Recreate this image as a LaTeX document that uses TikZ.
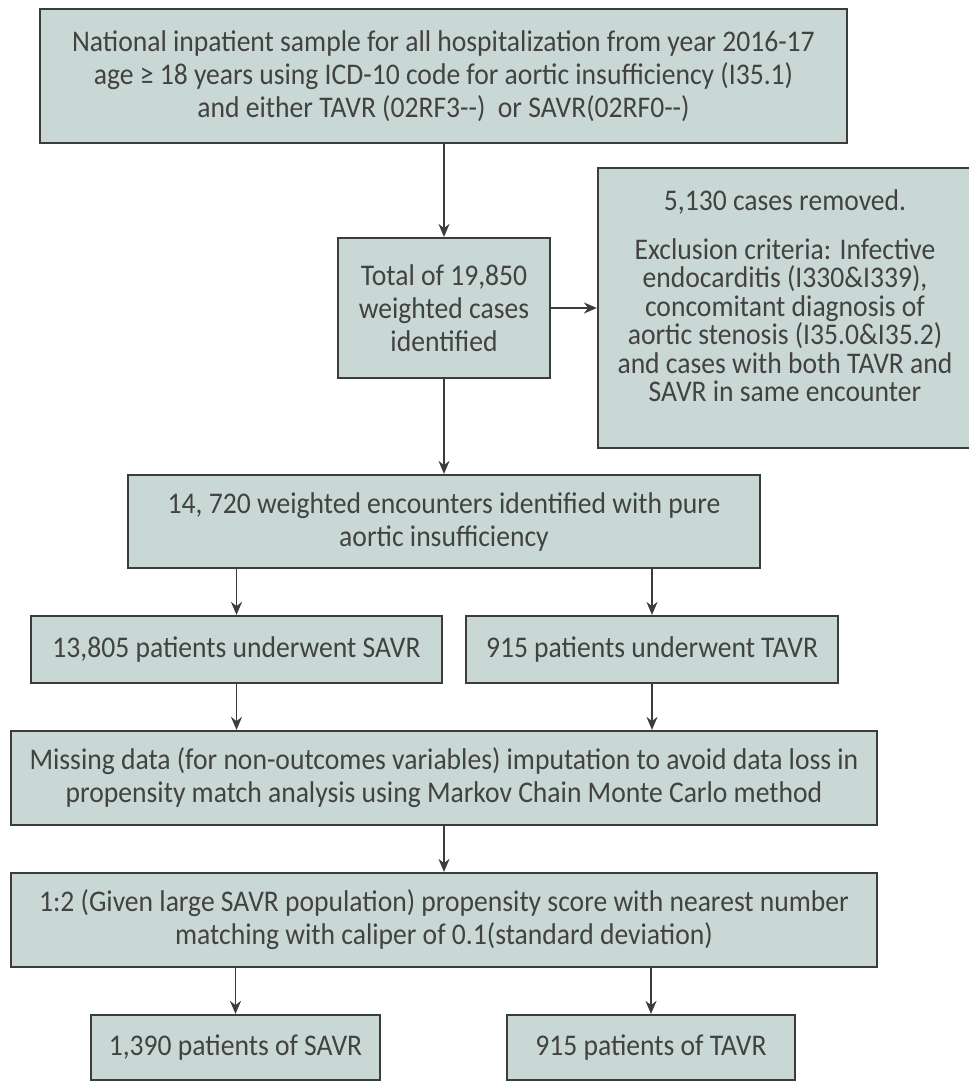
\documentclass[tikz,border=0pt]{standalone}
\usepackage{fontspec}
\setmainfont{Carlito}[FakeStretch=0.92]
\usetikzlibrary{arrows.meta}
\definecolor{boxfill}{RGB}{201,216,213}
\definecolor{boxline}{RGB}{60,60,60}
\definecolor{txt}{RGB}{66,66,66}
\begin{document}
\begin{tikzpicture}[x=1pt,y=-1pt,
  box/.style={draw=boxline, line width=2.2pt, fill=boxfill, text=txt, align=center, inner sep=0pt, font=\fontsize{30}{33}\selectfont},
  tight/.style={font=\fontsize{30}{28.5}\selectfont},
  arr/.style={draw=boxline, line width=1.6pt, -{Stealth[length=13pt,width=11pt]}}]
\fill[white] (0,0) rectangle (969,1082);
\useasboundingbox (0,0) rectangle (969,1082);
\node[box, minimum width=807pt, minimum height=134pt] (top) at (443.5,76)
  {National inpatient sample for all hospitalization from year 2016-17\\
   age ≥ 18 years using ICD-10 code for aortic insufficiency (I35.1)\\
   and either TAVR (02RF3-{}-)\ \ or SAVR(02RF0-{}-)};
\node[box, minimum width=212pt, minimum height=140pt] (total) at (444,308)
  {Total of 19,850\\ weighted cases\\ identified};
\node[box, tight, minimum width=374pt, minimum height=280pt] (excl) at (785,308)
  {5,130 cases removed.\\[20pt]
   Exclusion criteria: Infective\\
   endocarditis (I330\&I339),\\
   concomitant diagnosis of\\
   aortic stenosis (I35.0\&I35.2)\\
   and cases with both TAVR and\\
   SAVR in same encounter\\[-4pt]\mbox{}};
\node[box, minimum width=632pt, minimum height=93pt] (pure) at (444,521.5)
  {14, 720 weighted encounters identified with pure\\ aortic insufficiency};
\node[box, minimum width=411pt, minimum height=67pt] (savr) at (236.5,649.5)
  {13,805 patients underwent SAVR};
\node[box, minimum width=372pt, minimum height=67pt] (tavr) at (652,649.5)
  {915 patients underwent TAVR};
\node[box, minimum width=866pt, minimum height=94pt] (miss) at (444,778)
  {Missing data (for non-outcomes variables) imputation to avoid data loss in\\
   propensity match analysis using Markov Chain Monte Carlo method};
\node[box, minimum width=866pt, minimum height=94pt] (match) at (444,920)
  {1:2 (Given large SAVR population) propensity score with nearest number\\
   matching with caliper of 0.1(standard deviation)};
\node[box, minimum width=289pt, minimum height=65pt] (bsavr) at (235.5,1047.5)
  {1,390 patients of SAVR};
\node[box, minimum width=288pt, minimum height=65pt] (btavr) at (651,1047.5)
  {915 patients of TAVR};
\draw[arr] (top.south -| total.north) -- (total.north);
\draw[arr] (total.east) -- (excl.west |- total.east);
\draw[arr] (total.south) -- (pure.north -| total.south);
\draw[arr] (pure.south -| savr.north) -- (savr.north);
\draw[arr] (pure.south -| tavr.north) -- (tavr.north);
\draw[arr] (savr.south) -- (miss.north -| savr.south);
\draw[arr] (tavr.south) -- (miss.north -| tavr.south);
\draw[arr] (miss.south -| pure.south) -- (match.north -| pure.south);
\draw[arr] (match.south -| bsavr.north) -- (bsavr.north);
\draw[arr] (match.south -| btavr.north) -- (btavr.north);
\end{tikzpicture}
\end{document}
